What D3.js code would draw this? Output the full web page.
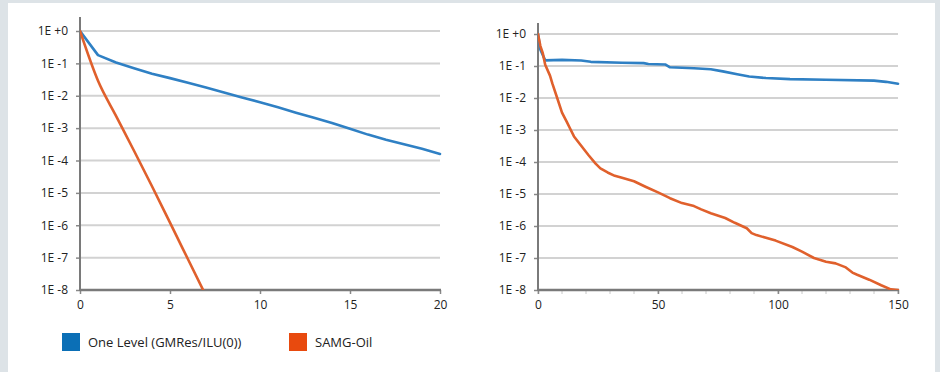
<!DOCTYPE html>
<html>
<head>
<meta charset="utf-8">
<script src="https://cdn.jsdelivr.net/npm/d3@7"></script>
<style>
  html, body { margin: 0; padding: 0; background: #dde3e7; }
  svg { display: block; }
  text { font-family: "Open Sans", "DejaVu Sans", sans-serif; fill: #222; }
</style>
</head>
<body>
<svg id="chart" width="940" height="372"></svg>
<script>
// Residual history: iteration number and relative residual per solver
const leftIterOneLevel = [0,1,2,3,4,5,6,7,8,9,10,11,12,13,14,15,16,17,18,19,20];
const leftOneLevel = [1, 1.8e-1, 1.07e-1, 7.1e-2, 4.8e-2, 3.5e-2, 2.5e-2, 1.8e-2, 1.26e-2, 8.9e-3,
  6.3e-3, 4.4e-3, 3.0e-3, 2.1e-3, 1.45e-3, 9.5e-4, 6.3e-4, 4.4e-4, 3.2e-4, 2.3e-4, 1.6e-4];
const leftIterSamg = [0,1,2,3,4,5,6,7];
const leftSamg = [1, 2.9e-2, 2.4e-3, 2.0e-4, 1.6e-5, 1.2e-6, 8.9e-8, 6.6e-9];

const rightIterOneLevel = [0,1,3,10,18,22,35,44,46,53,55,65,72,77,83,88,95,105,120,140,145,150];
const rightOneLevel = [1, 3.2e-1, 1.5e-1, 1.55e-1, 1.48e-1, 1.35e-1, 1.26e-1, 1.23e-1, 1.15e-1, 1.12e-1,
  9.1e-2, 8.5e-2, 7.9e-2, 6.8e-2, 5.5e-2, 4.7e-2, 4.2e-2, 3.9e-2, 3.7e-2, 3.5e-2, 3.2e-2, 2.8e-2];
const rightIterSamg = [0,1,2,3,5,6,8,10,12,13,15,18,21,24,26,29,32,35,40,45,50,55,60,65,68,72,78,82,
  87,89,91,99,106,110,115,120,124,128,131,133,138,143,147,150];
const rightSamg = [1, 4.2e-1, 2.5e-1, 1.1e-1, 5.0e-2, 2.8e-2, 1.0e-2, 3.5e-3, 1.8e-3, 1.26e-3, 6.3e-4,
  3.2e-4, 1.66e-4, 8.9e-5, 6.3e-5, 4.7e-5, 3.7e-5, 3.2e-5, 2.5e-5, 1.66e-5, 1.12e-5, 7.4e-6, 5.2e-6,
  4.2e-6, 3.3e-6, 2.5e-6, 1.78e-6, 1.26e-6, 8.5e-7, 6.0e-7, 5.2e-7, 3.5e-7, 2.2e-7, 1.58e-7, 1.0e-7,
  7.6e-8, 6.8e-8, 5.2e-8, 3.5e-8, 3.0e-8, 2.1e-8, 1.41e-8, 1.05e-8, 1.0e-8];

const yTickValues = [1, 1e-1, 1e-2, 1e-3, 1e-4, 1e-5, 1e-6, 1e-7, 1e-8];
const yTickLabels = ["1E +0", "1E -1", "1E -2", "1E -3", "1E -4", "1E -5", "1E -6", "1E -7", "1E -8"];
const leftXTicks = [0, 5, 10, 15, 20];
const rightXTicks = [0, 50, 100, 150];
const rightXMinor = d3.range(0, 151, 10);

const seriesNames = ["One Level (GMRes/ILU(0))", "SAMG-Oil"];
const lineColors = ["#2f80c4", "#e0602c"];
const legendColors = ["#0b6fb6", "#e84a0e"];

const svg = d3.select("#chart");

// white card behind both plots
svg.append("rect").attr("x", 8).attr("y", 3).attr("width", 927).attr("height", 369).attr("fill", "#ffffff");

function drawPanel(cfg) {
  const x = d3.scaleLinear().domain(cfg.xDomain).range([cfg.x0, cfg.x1]);
  const y = d3.scaleLog().domain([1e-8, 1]).range([cfg.yBottom, cfg.yTop]);
  const g = svg.append("g");

  const clipId = "clip-" + cfg.id;
  svg.append("clipPath").attr("id", clipId)
    .append("rect").attr("x", cfg.x0).attr("y", cfg.axisTop)
    .attr("width", cfg.x1 - cfg.x0 + 2).attr("height", cfg.yBottom - cfg.axisTop);

  // horizontal decade gridlines
  g.append("g").selectAll("line")
    .data(yTickValues.slice(0, -1))
    .join("line")
    .attr("x1", cfg.x0).attr("x2", cfg.x1)
    .attr("y1", d => y(d)).attr("y2", d => y(d))
    .attr("stroke", "#d2d2d2").attr("stroke-width", 2);

  // minor x ticks
  if (cfg.minor) {
    g.append("g").selectAll("line")
      .data(cfg.minor)
      .join("line")
      .attr("x1", d => x(d)).attr("x2", d => x(d))
      .attr("y1", cfg.yBottom).attr("y2", cfg.yBottom + 4)
      .attr("stroke", "#c8c8c8").attr("stroke-width", 1);
  }

  // x axis
  const xAxis = d3.axisBottom(x).tickValues(cfg.xTicks).tickSize(4).tickPadding(6).tickFormat(d3.format("d"));
  const gx = g.append("g").attr("transform", `translate(0,${cfg.yBottom})`).call(xAxis);
  gx.select(".domain").remove();
  gx.selectAll(".tick line").attr("stroke", "#888").attr("stroke-width", 1.5);
  gx.selectAll(".tick text").style("font-size", "12px").attr("fill", "#222");

  // y axis labels
  const yAxis = d3.axisLeft(y).tickValues(yTickValues).tickSize(4).tickPadding(8)
    .tickFormat((d, i) => yTickLabels[i]);
  const gy = g.append("g").attr("transform", `translate(${cfg.x0},0)`).call(yAxis);
  gy.select(".domain").remove();
  gy.selectAll(".tick line").attr("stroke", "#888").attr("stroke-width", 1.5);
  gy.selectAll(".tick text").style("font-size", "12px").attr("fill", "#222");

  // axis lines
  g.append("line").attr("x1", cfg.x0).attr("x2", cfg.x1 + 1)
    .attr("y1", cfg.yBottom).attr("y2", cfg.yBottom)
    .attr("stroke", "#7a7a7a").attr("stroke-width", 2.5);
  g.append("line").attr("x1", cfg.x0).attr("x2", cfg.x0)
    .attr("y1", cfg.axisTop).attr("y2", cfg.yBottom + 1)
    .attr("stroke", "#7a7a7a").attr("stroke-width", 2);

  cfg.series.forEach((s, i) => {
    const line = d3.line().x(d => x(d[0])).y(d => y(d[1])).curve(s.curve || d3.curveLinear);
    g.append("path")
      .datum(d3.zip(s.iter, s.values))
      .attr("clip-path", `url(#${clipId})`)
      .attr("fill", "none")
      .attr("stroke", lineColors[s.color])
      .attr("stroke-width", 2.6)
      .attr("stroke-linejoin", "round")
      .attr("stroke-linecap", "round")
      .attr("d", line);
  });
}

drawPanel({
  id: "left", xDomain: [0, 20], x0: 80, x1: 440, yTop: 31, yBottom: 290, axisTop: 17,
  xTicks: leftXTicks,
  series: [
    { iter: leftIterOneLevel, values: leftOneLevel, color: 0 },
    { iter: leftIterSamg, values: leftSamg, color: 1, curve: d3.curveMonotoneX }
  ]
});

drawPanel({
  id: "right", xDomain: [0, 150], x0: 538, x1: 898, yTop: 34, yBottom: 290, axisTop: 23,
  xTicks: rightXTicks, minor: rightXMinor,
  series: [
    { iter: rightIterOneLevel, values: rightOneLevel, color: 0 },
    { iter: rightIterSamg, values: rightSamg, color: 1 }
  ]
});

// legend
const legendX = [62, 289];
const legend = svg.append("g").selectAll("g")
  .data(seriesNames)
  .join("g")
  .attr("transform", (d, i) => `translate(${legendX[i]},333)`);
legend.append("rect").attr("width", 18).attr("height", 18).attr("fill", (d, i) => legendColors[i]);
legend.append("text").attr("x", 26).attr("y", 9).attr("dy", "0.36em")
  .style("font-size", "13px").attr("fill", "#333").text(d => d);
</script>
</body>
</html>
